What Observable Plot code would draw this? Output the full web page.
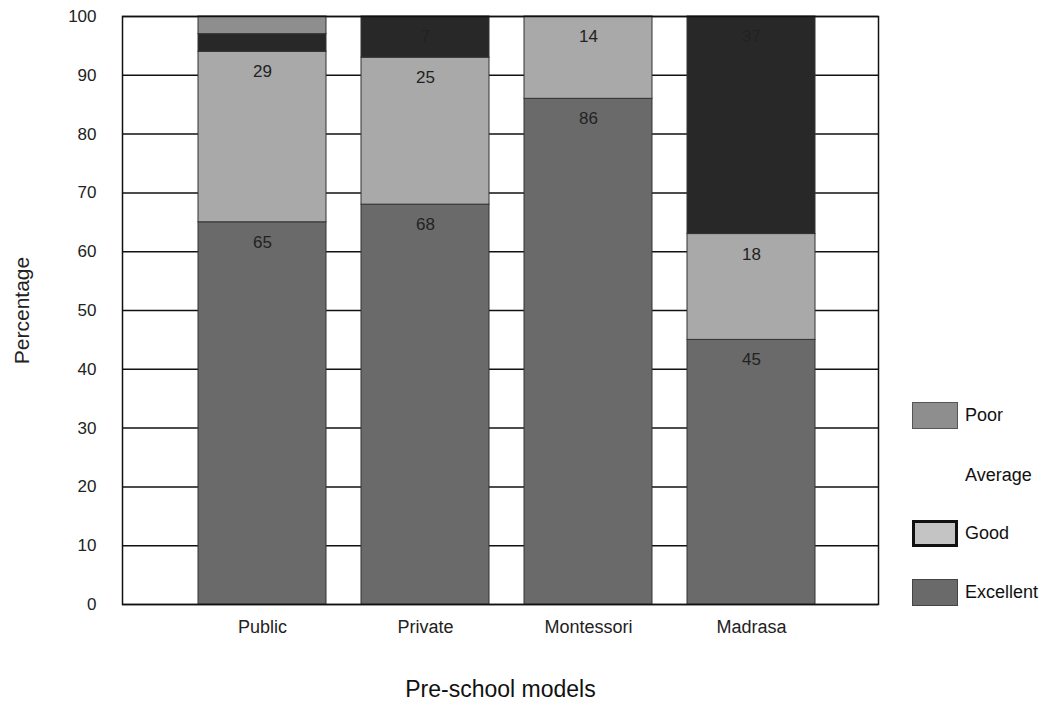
<!DOCTYPE html>
<html>
<head>
<meta charset="utf-8">
<script src="https://cdn.jsdelivr.net/npm/d3@7"></script>
<script src="https://cdn.jsdelivr.net/npm/@observablehq/plot@0.6"></script>
<style>
  body { margin: 0; background: #fff; font-family: "Liberation Sans", Arial, sans-serif; }
  #wrap { position: relative; width: 1059px; height: 706px; }
  #wrap svg { position: absolute; left: 0; top: 0; }
  .legend { position: absolute; left: 912px; top: 0; font-size: 18px; color: #111; }
  .legend .row { position: absolute; left: 0; display: flex; align-items: center; white-space: nowrap; }
  .legend .sw { width: 46px; height: 27px; margin-right: 7px; box-sizing: border-box; }
</style>
</head>
<body>
<div id="wrap"></div>
<script>
const categories = ["Public", "Private", "Montessori", "Madrasa"];
const levels = ["Excellent", "Good", "Average", "Poor"];
const excellent = [65, 68, 86, 45];
const good = [29, 25, 14, 18];
const average = [3, 7, 0, 37];
const poor = [3, 0, 0, 0];
const yTicks = [0, 10, 20, 30, 40, 50, 60, 70, 80, 90, 100];

const colors = {Excellent: "#6a6a6a", Good: "#a9a9a9", Average: "#282828", Poor: "#8e8e8e"};
const series = {Excellent: excellent, Good: good, Average: average, Poor: poor};

const data = [];
categories.forEach((c, i) => {
  levels.forEach(l => data.push({model: c, level: l, value: series[l][i]}));
});

const chart = Plot.plot({
  width: 1059,
  height: 706,
  marginLeft: 122,
  marginRight: 181,
  marginTop: 16,
  marginBottom: 102,
  style: {fontFamily: "Liberation Sans, Arial, sans-serif", fontSize: "17px", color: "#222", background: "#fff"},
  x: {domain: categories, insetLeft: 57, insetRight: 45, paddingInner: 0.217, paddingOuter: 0.1085, label: null},
  y: {domain: [0, 100], label: null},
  color: {domain: levels, range: levels.map(l => colors[l])},
  marks: [
    Plot.ruleY(yTicks, {stroke: "#111", strokeWidth: 1.5}),
    Plot.barY(data, {x: "model", y: "value", fill: "level", order: levels, stroke: "#333", strokeWidth: 1}),
    Plot.text(data, Plot.stackY2({
      x: "model", y: "value", z: "level", order: levels,
      text: d => d.value >= 5 ? String(d.value) : "",
      dy: 20, fill: "#222", fontSize: 17
    })),
    Plot.frame({stroke: "#111", strokeWidth: 1.5}),
    Plot.axisY(yTicks, {tickSize: 0, tickPadding: 26, fontSize: 17, label: null}),
    Plot.axisX({tickSize: 0, tickPadding: 16, fontSize: 18, label: null}),
    Plot.text(["Percentage"], {frameAnchor: "left", dx: -100, rotate: -90, textAnchor: "middle", fontSize: 21, fill: "#222"}),
    Plot.text(["Pre-school models"], {frameAnchor: "bottom", dy: 92, fontSize: 23, fill: "#111"})
  ]
});

const wrap = document.getElementById("wrap");
wrap.appendChild(chart);

const legend = document.createElement("div");
legend.className = "legend";
const legendItems = [
  {label: "Poor", top: 402, fill: colors.Poor, border: "1px solid #555"},
  {label: "Average", top: 462, fill: "transparent", border: "none"},
  {label: "Good", top: 520, fill: "#c4c4c4", border: "3px solid #111"},
  {label: "Excellent", top: 579, fill: colors.Excellent, border: "1px solid #444"}
];
legendItems.forEach(it => {
  const row = document.createElement("div");
  row.className = "row";
  row.style.top = it.top + "px";
  const sw = document.createElement("div");
  sw.className = "sw";
  sw.style.background = it.fill;
  sw.style.border = it.border;
  const t = document.createElement("span");
  t.textContent = it.label;
  row.appendChild(sw);
  row.appendChild(t);
  legend.appendChild(row);
});
wrap.appendChild(legend);
</script>
</body>
</html>
